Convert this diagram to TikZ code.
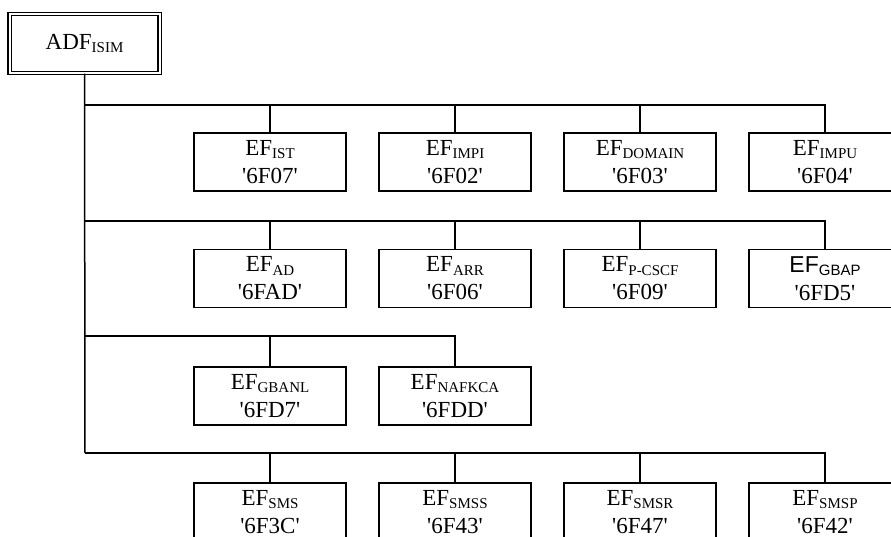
\documentclass[tikz,border=0pt]{standalone}
\usepackage{fontspec}
\setmainfont{Liberation Serif}
\setsansfont{Liberation Sans}

\newcommand{\efsub}[1]{\raisebox{-3.5pt}{\fontsize{15}{15}\selectfont #1}}
\newcommand{\fid}[1]{\textquotesingle#1\textquotesingle}

\begin{document}
\begin{tikzpicture}[
  x = 1pt, y = -1pt,
  every node/.style = {font = \fontsize{23}{28}\selectfont},
  efbox/.style = {draw, line width = 1.5pt, minimum width = 152pt,
                  minimum height = 58pt, inner sep = 0pt, align = center},
  adfbox/.style = {draw, double, double distance = 2pt, line width = 1.2pt,
                   minimum width = 150pt, minimum height = 59pt},
  bus/.style = {line width = 1.5pt},
  ]
  \useasboundingbox (0,0) rectangle (891,536);

  \node[adfbox] (adf) at (84.5,43.5) {ADF\efsub{ISIM}};

  \coordinate (b1) at (85,105);
  \coordinate (b2) at (85,221);
  \coordinate (b3) at (85,336);
  \coordinate (b4) at (85,453);

  \node[efbox] (ist)    at (270,162) {EF\efsub{IST}\\\fid{6F07}};
  \node[efbox] (impi)   at (455,162) {EF\efsub{IMPI}\\\fid{6F02}};
  \node[efbox] (domain) at (640,162) {EF\efsub{DOMAIN}\\\fid{6F03}};
  \node[efbox] (impu)   at (825,162) {EF\efsub{IMPU}\\\fid{6F04}};

  \node[efbox] (ad)    at (270,278.5) {EF\efsub{AD}\\\fid{6FAD}};
  \node[efbox] (arr)   at (455,278.5) {EF\efsub{ARR}\\\fid{6F06}};
  \node[efbox] (pcscf) at (640,278.5) {EF\efsub{P-CSCF}\\\fid{6F09}};
  \node[efbox] (gbap)  at (825,278.5) {{\sffamily EF\efsub{GBAP}}\\\fid{6FD5}};

  \node[efbox] (gbanl)  at (270,396) {EF\efsub{GBANL}\\\fid{6FD7}};
  \node[efbox] (nafkca) at (455,396) {EF\efsub{NAFKCA}\\\fid{6FDD}};

  \node[efbox] (sms)  at (270,512) {EF\efsub{SMS}\\\fid{6F3C}};
  \node[efbox] (smss) at (455,512) {EF\efsub{SMSS}\\\fid{6F43}};
  \node[efbox] (smsr) at (640,512) {EF\efsub{SMSR}\\\fid{6F47}};
  \node[efbox] (smsp) at (825,512) {EF\efsub{SMSP}\\\fid{6F42}};

  % trunk and buses
  \draw[bus] (adf.south) -- (b4);
  \draw[bus] (b1) -| (impu.north);
  \draw[bus] (b2) -| (gbap.north);
  \draw[bus] (b3) -| (nafkca.north);
  \draw[bus] (b4) -| (smsp.north);

  % stems
  \draw[bus] (ist.north) -- (ist.north |- b1)
             (impi.north) -- (impi.north |- b1)
             (domain.north) -- (domain.north |- b1);
  \draw[bus] (ad.north) -- (ad.north |- b2)
             (arr.north) -- (arr.north |- b2)
             (pcscf.north) -- (pcscf.north |- b2);
  \draw[bus] (gbanl.north) -- (gbanl.north |- b3);
  \draw[bus] (sms.north) -- (sms.north |- b4)
             (smss.north) -- (smss.north |- b4)
             (smsr.north) -- (smsr.north |- b4);
\end{tikzpicture}
\end{document}
